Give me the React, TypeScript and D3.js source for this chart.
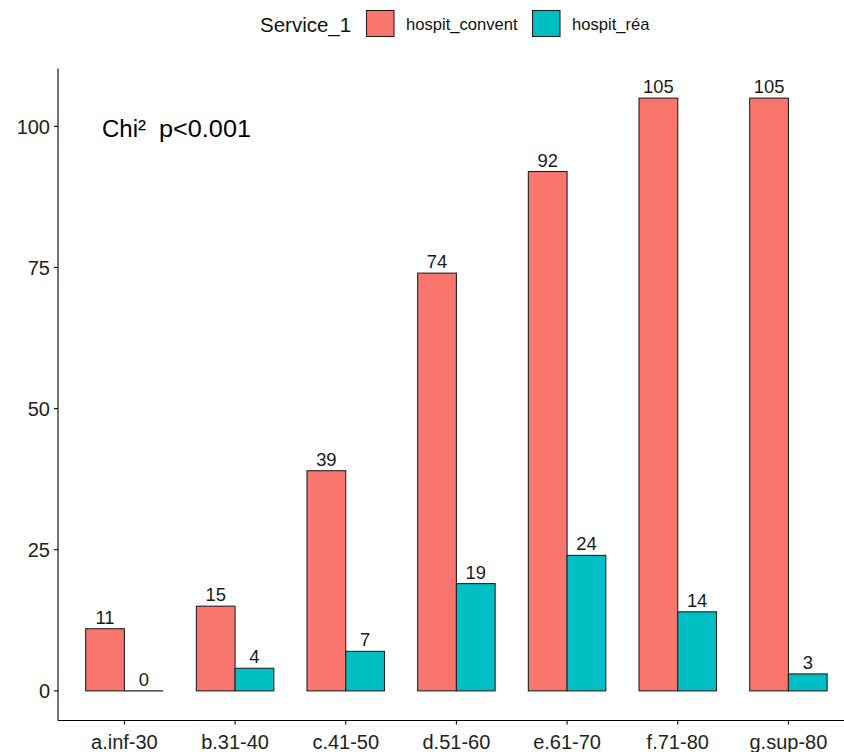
import React from "react";
import * as d3 from "d3";

const categories = ["a.inf-30", "b.31-40", "c.41-50", "d.51-60", "e.61-70", "f.71-80", "g.sup-80"];
const seriesNames = ["hospit_convent", "hospit_réa"];
const convent = [11, 15, 39, 74, 92, 105, 105];
const rea = [0, 4, 7, 19, 24, 14, 3];
const yTicks = [0, 25, 50, 75, 100];
const colors = ["#F8766D", "#00BFC4"];

export default function App() {
  const W = 844, H = 752;
  const left = 58;
  const step = 110.67;
  // ggplot-style discrete expansion of 0.6 on each side
  const x = d3.scalePoint<string>().domain(categories)
    .range([left + 0.6 * step, left + 0.6 * step + step * (categories.length - 1)]);
  const y = d3.scaleLinear().domain([-5.25, 110.25]).range([720.5, 68.5]);
  const xSub = d3.scaleBand<string>().domain(seriesNames).range([-0.35 * step, 0.35 * step]);
  const font = "Liberation Sans, Arial, sans-serif";
  const series = [convent, rea];
  const stroke = "#222";
  return (
    <svg width={W} height={H} style={{ position: "absolute", left: 0, top: 0 }} fontFamily={font}>
      <rect width={W} height={H} fill="white" />
      {categories.map((c) => (
        <g key={c}>
          {series.map((s, k) => {
            const i = categories.indexOf(c);
            const x0 = (x(c) as number) + (xSub(seriesNames[k]) as number);
            const bw = xSub.bandwidth();
            const v = s[i];
            return (
              <g key={k}>
                {v > 0 ? (
                  <rect x={x0} y={y(v)} width={bw} height={y(0) - y(v)}
                    fill={colors[k]} stroke={stroke} strokeWidth={1.1} />
                ) : (
                  <line x1={x0} x2={x0 + bw} y1={y(0)} y2={y(0)} stroke={stroke} strokeWidth={1.1} />
                )}
                <text x={x0 + bw / 2} y={y(v) - 5} textAnchor="middle" fontSize={18.4} fill="#1a1a1a">{v}</text>
              </g>
            );
          })}
        </g>
      ))}
      <line x1={left} x2={left} y1={68.5} y2={720.5} stroke="black" strokeWidth={1.1} />
      <line x1={left} x2={W} y1={720.5} y2={720.5} stroke="black" strokeWidth={1.1} />
      {yTicks.map(t => (
        <g key={t}>
          <line x1={left - 4} x2={left} y1={y(t)} y2={y(t)} stroke="black" strokeWidth={1.1} />
          <text x={left - 8} y={y(t)} dy="0.36em" textAnchor="end" fontSize={20} fill="#222">{t}</text>
        </g>
      ))}
      {categories.map((c) => (
        <g key={c}>
          <line x1={x(c)} x2={x(c)} y1={720.5} y2={724.5} stroke="black" strokeWidth={1.1} />
          <text x={x(c)} y={748.5} textAnchor="middle" fontSize={20} fill="#222">{c}</text>
        </g>
      ))}
      <text x={102} y={137} fontSize={23.5} fill="black" textLength={44} lengthAdjust="spacingAndGlyphs">Chi²</text>
      <text x={159} y={137} fontSize={23.5} fill="black" textLength={92} lengthAdjust="spacingAndGlyphs">p&lt;0.001</text>
      <text x={260} y={32} fontSize={20.5} fill="#111">Service_1</text>
      <rect x={366.5} y={10.5} width={27.5} height={26} fill={colors[0]} stroke={stroke} strokeWidth={1.1} />
      <text x={406} y={29.5} fontSize={16.6} fill="#111">{seriesNames[0]}</text>
      <rect x={532.5} y={10.5} width={27.5} height={26} fill={colors[1]} stroke={stroke} strokeWidth={1.1} />
      <text x={572} y={29.5} fontSize={16.6} fill="#111">{seriesNames[1]}</text>
    </svg>
  );
}
